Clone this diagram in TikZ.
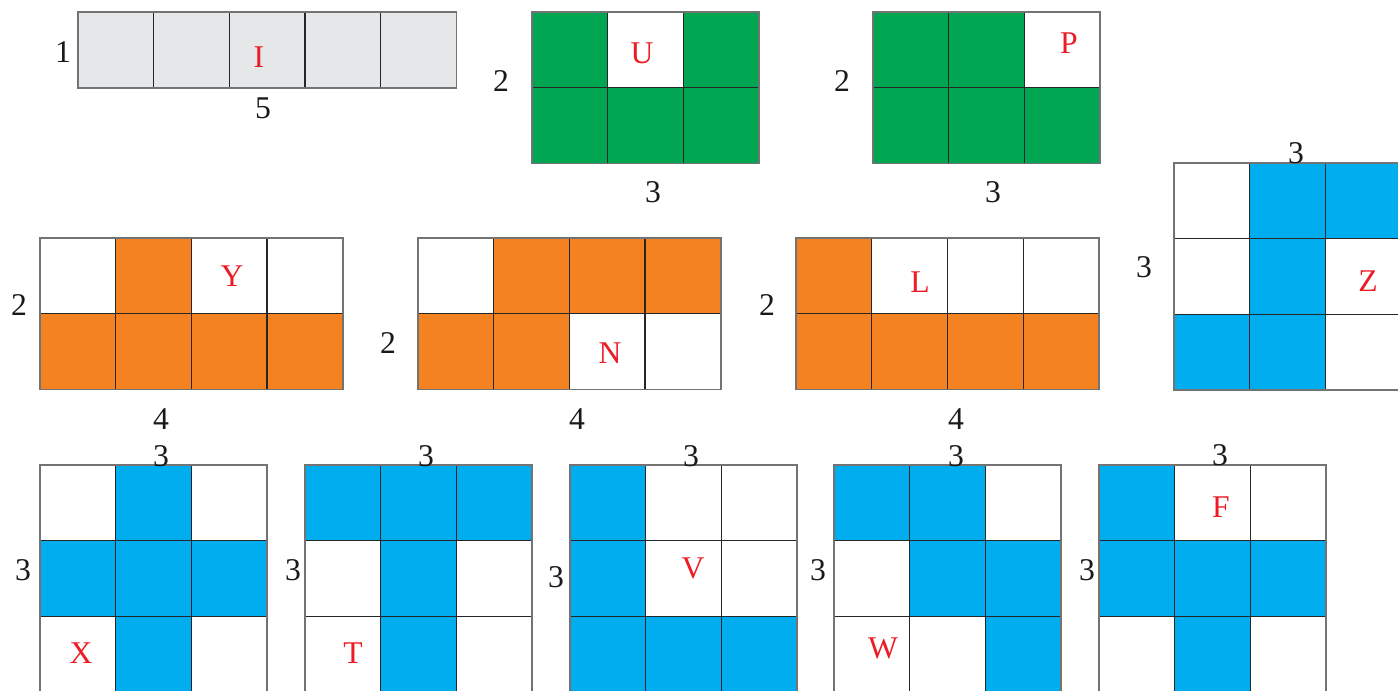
\documentclass[tikz,border=0pt]{standalone}
\usepackage{fontspec}
\setmainfont{Liberation Serif}
\usepackage{tikz}
\usetikzlibrary{calc}
\definecolor{pgray}{HTML}{E6E7E8}
\definecolor{pgreen}{HTML}{00A651}
\definecolor{porange}{HTML}{F58220}
\definecolor{pblue}{HTML}{00AEEF}
\definecolor{pred}{HTML}{ED1C24}
\newcommand{\cellw}{75.7}
% origin, columns, rows, colour, filled cells (col/row from top left)
\newcommand{\tiles}[5]{%
  \foreach \i/\j in {#5} \fill[#4] ($(#1)+({\i*\cellw},{\j*\cellw})$) rectangle ++(\cellw,\cellw);
  \foreach \i in {1,...,#2} \foreach \j in {1,...,#3}
    \draw[cell] ($(#1)+({(\i-1)*\cellw},{(\j-1)*\cellw})$) rectangle ++(\cellw,\cellw);
  \draw[frame] (#1) rectangle ++({#2*\cellw},{#3*\cellw});
}

\begin{document}
\begin{tikzpicture}[x=0.01cm,y=-0.01cm,
  cell/.style={draw=black!85,line width=0.35pt},
  frame/.style={draw=black!55,line width=0.45pt},
  dim/.style={font=\fontsize{9}{11}\selectfont,text=black!90,inner sep=0pt},
  tag/.style={font=\fontsize{9}{11}\selectfont,text=pred,inner sep=0pt}]
  \useasboundingbox (0,0) rectangle (1398,690);
  % top row: I, U, P
  \coordinate (I0) at (78,12);
  \tiles{I0}{5}{1}{pgray}{0/0,1/0,2/0,3/0,4/0}
  \node[dim] (I-rows) at (63,52) {1}; \node[dim] (I-cols) at (263,108) {5};
  \node[tag] (I-name) at (259,57) {I};
  \coordinate (U0) at (532,12);
  \tiles{U0}{3}{2}{pgreen}{0/0,2/0,0/1,1/1,2/1}
  \node[dim] (U-rows) at (501,81) {2}; \node[dim] (U-cols) at (653,192) {3};
  \node[tag] (U-name) at (642,53) {U};
  \coordinate (P0) at (873,12);
  \tiles{P0}{3}{2}{pgreen}{0/0,1/0,0/1,1/1,2/1}
  \node[dim] (P-rows) at (842,81) {2}; \node[dim] (P-cols) at (993,192) {3};
  \node[tag] (P-name) at (1069,43) {P};
  % middle row: Y, N, L, Z
  \coordinate (Y0) at (40,238);
  \tiles{Y0}{4}{2}{porange}{1/0,0/1,1/1,2/1,3/1}
  \node[dim] (Y-rows) at (19,305) {2}; \node[dim] (Y-cols) at (161,419) {4};
  \node[tag] (Y-name) at (232,276) {Y};
  \coordinate (N0) at (418,238);
  \tiles{N0}{4}{2}{porange}{1/0,2/0,3/0,0/1,1/1}
  \node[dim] (N-rows) at (388,343) {2}; \node[dim] (N-cols) at (577,419) {4};
  \node[tag] (N-name) at (610,353) {N};
  \coordinate (L0) at (796,238);
  \tiles{L0}{4}{2}{porange}{0/0,0/1,1/1,2/1,3/1}
  \node[dim] (L-rows) at (767,305) {2}; \node[dim] (L-cols) at (956,419) {4};
  \node[tag] (L-name) at (920,282) {L};
  \coordinate (Z0) at (1174,163);
  \tiles{Z0}{3}{3}{pblue}{1/0,2/0,1/1,0/2,1/2}
  \node[dim] (Z-rows) at (1144,267) {3}; \node[dim] (Z-cols) at (1296,153) {3};
  \node[tag] (Z-name) at (1368,281) {Z};
  % bottom row: X, T, V, W, F
  \coordinate (X0) at (40,465);
  \tiles{X0}{3}{3}{pblue}{1/0,0/1,1/1,2/1,1/2}
  \node[dim] (X-rows) at (23,570) {3}; \node[dim] (X-cols) at (161,456) {3};
  \node[tag] (X-name) at (81,653) {X};
  \coordinate (T0) at (305,465);
  \tiles{T0}{3}{3}{pblue}{0/0,1/0,2/0,1/1,1/2}
  \node[dim] (T-rows) at (293,570) {3}; \node[dim] (T-cols) at (426,456) {3};
  \node[tag] (T-name) at (353,653) {T};
  \coordinate (V0) at (570,465);
  \tiles{V0}{3}{3}{pblue}{0/0,0/1,0/2,1/2,2/2}
  \node[dim] (V-rows) at (556,577) {3}; \node[dim] (V-cols) at (691,456) {3};
  \node[tag] (V-name) at (693,568) {V};
  \coordinate (W0) at (834,465);
  \tiles{W0}{3}{3}{pblue}{0/0,1/0,1/1,2/1,2/2}
  \node[dim] (W-rows) at (818,570) {3}; \node[dim] (W-cols) at (956,456) {3};
  \node[tag] (W-name) at (883,648) {W};
  \coordinate (F0) at (1099,465);
  \tiles{F0}{3}{3}{pblue}{0/0,0/1,1/1,2/1,1/2}
  \node[dim] (F-rows) at (1087,570) {3}; \node[dim] (F-cols) at (1220,455) {3};
  \node[tag] (F-name) at (1221,507) {F};
\end{tikzpicture}
\end{document}
